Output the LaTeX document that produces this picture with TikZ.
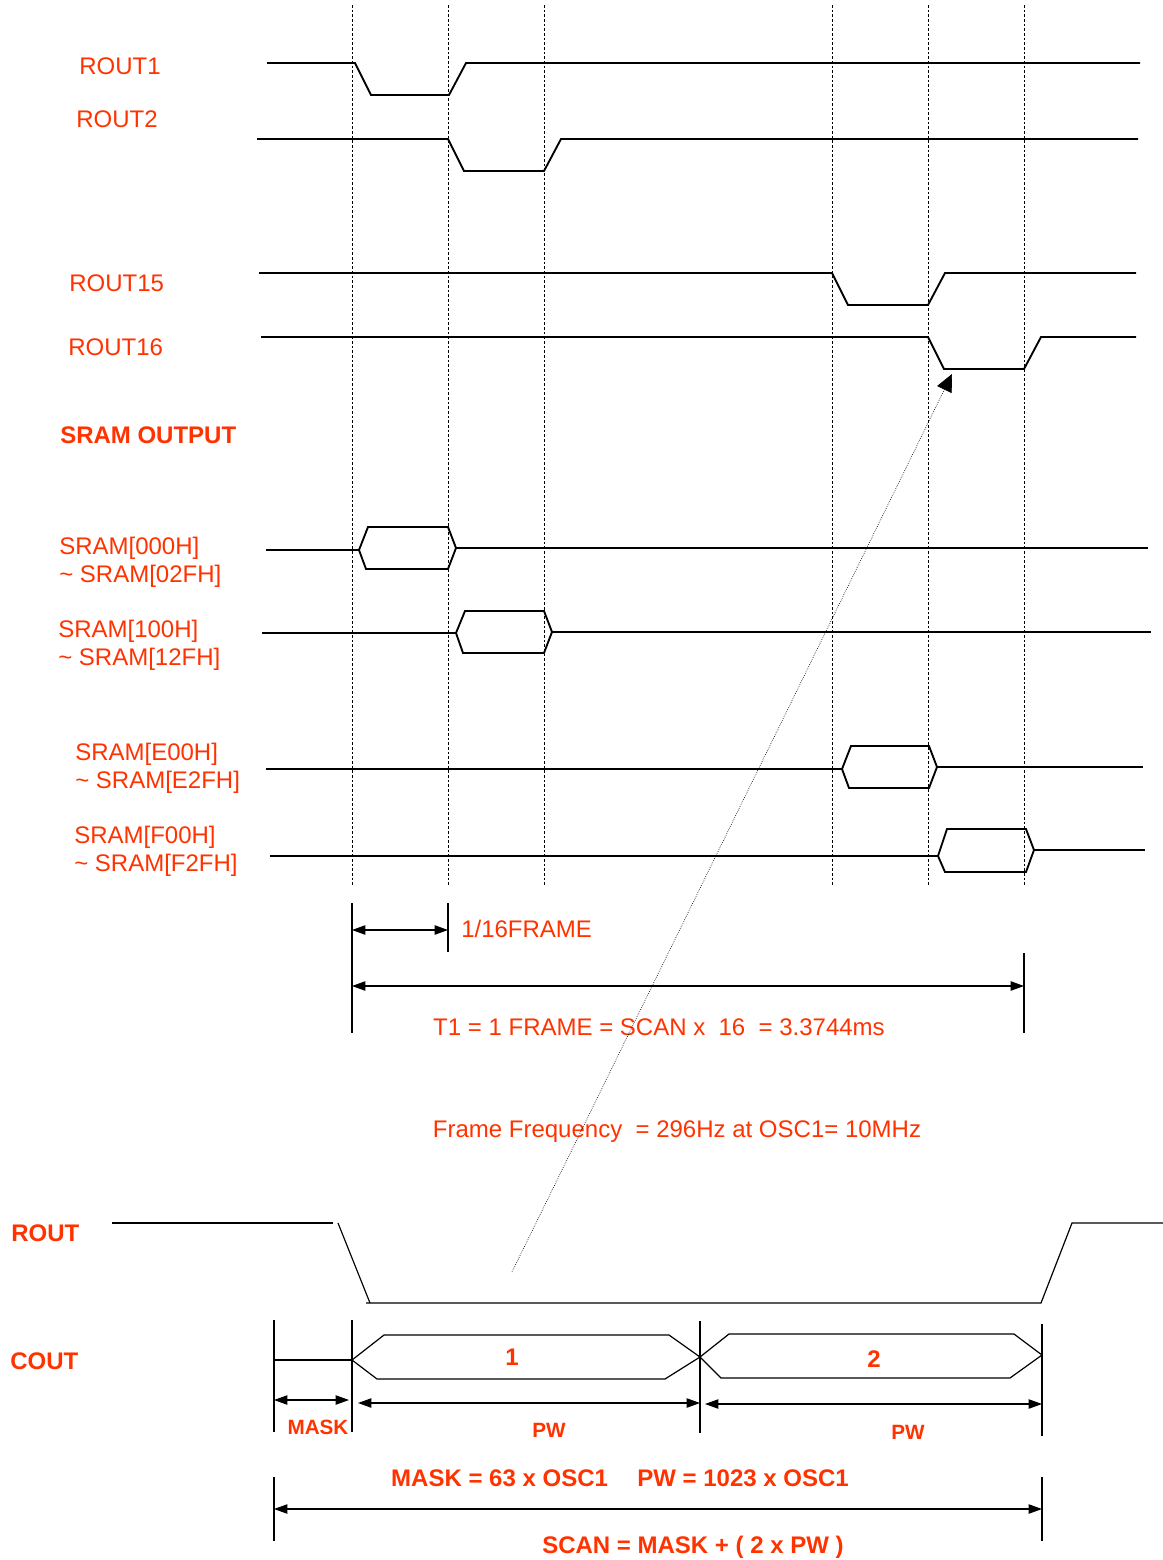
\documentclass[tikz,border=0pt]{standalone}
\usepackage{fontspec}
\setmainfont{Liberation Sans}
\usetikzlibrary{arrows.meta}
\definecolor{labelred}{HTML}{FF3300}

\begin{document}
\begin{tikzpicture}[
        x=0.75pt, y=-0.75pt,
        sig/.style={line width=1.4pt},
        thinsig/.style={line width=0.9pt},
        guide/.style={line width=0.5pt, dash pattern=on 2pt off 1.5pt},
        dim/.style={line width=0.8pt},
        dimarrow/.style={line width=0.8pt, {Triangle[length=10pt,width=7pt]}-{Triangle[length=10pt,width=7pt]}},
        pointer/.style={line width=0.5pt, densely dotted, -{Triangle[length=13pt,width=12pt]}},
        label/.style={font=\fontsize{18}{21}\selectfont, text=labelred, anchor=west, inner sep=0pt, align=left},
        blabel/.style={label, font=\fontsize{18}{21}\selectfont\bfseries},
        clabel/.style={label, anchor=center},
        cblabel/.style={blabel, anchor=center},
        sblabel/.style={cblabel, font=\fontsize{15.5}{18}\selectfont\bfseries}
    ]
    \fill[white] (0,0) rectangle (1163,1560);
    \useasboundingbox (0,0) rectangle (1163,1560);

    % HILFSLINIEN
    \draw[guide] (352,5) -- (352,887);
    \draw[guide] (448,5) -- (448,887);
    \draw[guide] (544,5) -- (544,887);
    \draw[guide] (832,5) -- (832,887);
    \draw[guide] (928,5) -- (928,887);
    \draw[guide] (1024,5) -- (1024,887);

    % ROUT SIGNALE
    \node[label] (lrout1) at (79,66) {ROUT1};
    \node[label] (lrout2) at (76,119) {ROUT2};
    \node[label] (lrout15) at (69,283) {ROUT15};
    \node[label] (lrout16) at (68,347) {ROUT16};
    \draw[sig] (267,63) -- (355,63) -- (371,95) -- (449,95) -- (466,63) -- (1140,63);
    \draw[sig] (257,139) -- (448,139) -- (464,171) -- (544,171) -- (561,139) -- (1138,139);
    \draw[sig] (259,273) -- (832,273) -- (848,305) -- (928,305) -- (945,273) -- (1136,273);
    \draw[sig] (261,337) -- (928,337) -- (944,369) -- (1024,369) -- (1041,337) -- (1136,337);

    % SRAM AUSGANG
    \node[blabel] (lsram) at (60,435) {SRAM OUTPUT};
    \node[label] (lsram0) at (59,562) {SRAM[000H]\\\textasciitilde\ SRAM[02FH]};
    \node[label] (lsram1) at (58,645) {SRAM[100H]\\\textasciitilde\ SRAM[12FH]};
    \node[label] (lsramE) at (75,768) {SRAM[E00H]\\\textasciitilde\ SRAM[E2FH]};
    \node[label] (lsramF) at (74,851) {SRAM[F00H]\\\textasciitilde\ SRAM[F2FH]};
    \draw[sig] (266,550) -- (359,550);
    \draw[sig] (359,550) -- (368,527) -- (448,527) -- (456,548) -- (448,569) -- (366,569) -- cycle;
    \draw[sig] (456,548) -- (1148,548);
    \draw[sig] (262,633) -- (456,633);
    \draw[sig] (456,633) -- (465,611) -- (544,611) -- (552,632) -- (544,653) -- (463,653) -- cycle;
    \draw[sig] (552,632) -- (1151,632);
    \draw[sig] (266,769) -- (842,769);
    \draw[sig] (842,769) -- (851,746) -- (929,746) -- (937,767) -- (929,788) -- (849,788) -- cycle;
    \draw[sig] (937,767) -- (1143,767);
    \draw[sig] (270,856) -- (938,856);
    \draw[sig] (938,856) -- (947,829) -- (1026,829) -- (1034,850) -- (1026,872) -- (945,872) -- cycle;
    \draw[sig] (1034,850) -- (1145,850);

    % FRAME MASSE
    \coordinate (f0) at (352,930);
    \coordinate (f1) at (448,930);
    \coordinate (t0) at (352,986);
    \coordinate (t1) at (1024,986);
    \draw[dim] (352,903) -- (352,1033);
    \draw[dim] (448,903) -- (448,952);
    \draw[dim] (1024,953) -- (1024,1033);
    \draw[dimarrow] (f0) -- (f1);
    \draw[dimarrow] (t0) -- (t1);
    \node[label] (lsixteen) at (461,929) {1/16FRAME};
    \node[clabel] (lt1) at (659,1027) {T1 = 1 FRAME = SCAN x\ \ 16\ \ = 3.3744ms};
    \node[clabel] (lfreq) at (677,1132) {Frame Frequency\ \ = 296Hz at OSC1= 10MHz};

    % ZEIGER
    \coordinate (ptail) at (512,1272);
    \coordinate (phead) at (952,374);
    \draw[pointer] (ptail) -- (phead);

    % ROUT / COUT DETAIL
    \node[blabel] (lrout) at (11,1233) {ROUT};
    \node[blabel] (lcout) at (10,1361) {COUT};
    \draw[thinsig] (112,1223) -- (333,1223);
    \draw[thinsig] (338,1223) -- (370,1303);
    \draw[thinsig] (366,1303) -- (1041,1303) -- (1072,1223) -- (1163,1223);
    \draw[thinsig] (274,1360) -- (352,1360);
    \draw[thinsig] (352,1360) -- (384,1335) -- (669,1335) -- (700,1357) -- (665,1379) -- (377,1379) -- cycle;
    \draw[thinsig] (700,1357) -- (729,1334) -- (1014,1334) -- (1042,1355) -- (1010,1378) -- (721,1378) -- cycle;
    \node[cblabel] (lone) at (512,1357) {1};
    \node[cblabel] (ltwo) at (874,1359) {2};

    \coordinate (m0) at (274,1400);
    \coordinate (m1) at (349,1400);
    \coordinate (p0) at (358,1403);
    \coordinate (p1) at (700,1403);
    \coordinate (q0) at (705,1404);
    \coordinate (q1) at (1042,1404);
    \draw[dim] (274,1320) -- (274,1432);
    \draw[dim] (352,1320) -- (352,1432);
    \draw[dim] (700,1321) -- (700,1433);
    \draw[dim] (1042,1324) -- (1042,1436);
    \draw[dimarrow] (m0) -- (m1);
    \draw[dimarrow] (p0) -- (p1);
    \draw[dimarrow] (q0) -- (q1);
    \node[sblabel] (lmask) at (318,1427) {MASK};
    \node[sblabel] (lpw1) at (549,1430) {PW};
    \node[sblabel] (lpw2) at (908,1432) {PW};

    % SCAN
    \coordinate (s0) at (274,1509);
    \coordinate (s1) at (1042,1509);
    \draw[dim] (274,1477) -- (274,1541);
    \draw[dim] (1042,1477) -- (1042,1541);
    \draw[dimarrow] (s0) -- (s1);
    \node[cblabel] (lformula) at (620,1478) {MASK = 63 x OSC1\hspace{22pt}PW = 1023 x OSC1};
    \node[cblabel] (lscan) at (693,1547) {SCAN = MASK + ( 2 x PW )};
\end{tikzpicture}
\end{document}
